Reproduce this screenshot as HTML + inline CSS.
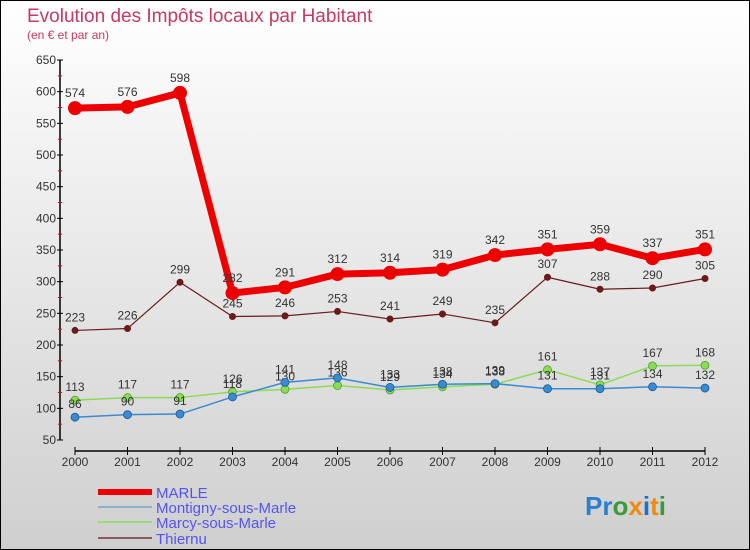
<!DOCTYPE html>
<html><head><meta charset="utf-8"><style>
body{margin:0;width:750px;height:550px;overflow:hidden}
svg{display:block;font-family:"Liberation Sans",sans-serif}
</style></head><body>
<svg id="c" width="750" height="550" viewBox="0 0 750 550">
<defs><linearGradient id="bg" x1="0" y1="0" x2="0" y2="1"><stop offset="0" stop-color="#ffffff"/><stop offset="1" stop-color="#cfcfcf"/></linearGradient></defs>
<rect x="0.5" y="0.5" width="749" height="549" fill="url(#bg)" stroke="#000"/>
<text x="27" y="22" font-size="19" fill="#c8385f">Evolution des Impôts locaux par Habitant</text>
<text x="27" y="39" font-size="12" fill="#c8385f">(en € et par an)</text>
<g id="axes"></g><g id="series"></g><g id="legend"></g>
<text x="585" y="515" font-size="26" font-weight="bold"><tspan fill="#2a7fd0">Pr</tspan><tspan fill="#3a9a3a">o</tspan><tspan fill="#f08a10">x</tspan><tspan fill="#1a6fd0">i</tspan><tspan fill="#f08a10">t</tspan><tspan fill="#3a9a3a">i</tspan></text>
</svg>
<script>
const years=[2000,2001,2002,2003,2004,2005,2006,2007,2008,2009,2010,2011,2012];
const yTicks=[50,100,150,200,250,300,350,400,450,500,550,600,650];
const marle=[574,576,598,282,291,312,314,319,342,351,359,337,351];
const montigny=[86,90,91,118,141,148,133,138,139,131,131,134,132];
const marcy=[113,117,117,126,130,136,129,134,138,161,137,167,168];
const thiernu=[223,226,299,245,246,253,241,249,235,307,288,290,305];
const NS="http://www.w3.org/2000/svg";
function X(i){return 75+i*52.5;}
function Y(v){return 440-(v-50)*380/600;}
function mk(tag,attrs,parent,txt){const e=document.createElementNS(NS,tag);for(const k in attrs)e.setAttribute(k,attrs[k]);if(txt!==undefined)e.textContent=txt;parent.appendChild(e);return e;}
const axes=document.getElementById('axes');
let e=mk('line',{x1:60,y1:Y(650),x2:60,y2:Y(50),stroke:'#000','stroke-width':1.5},axes);


yTicks.forEach(t=>{
  mk('line',{x1:57,y1:Y(t),x2:63,y2:Y(t),stroke:'#000'},axes);
  if(t<650)mk('line',{x1:58,y1:Y(t+25),x2:62,y2:Y(t+25),stroke:'#e00'},axes);
  const l=mk('text',{x:56,y:Y(t)+4,'font-size':12,fill:'#333','text-anchor':'end'},axes,t);
  
  
});
e=mk('line',{x1:X(0),y1:451,x2:X(12),y2:451,stroke:'#000','stroke-width':1.5},axes);


years.forEach((yr,i)=>{
  mk('line',{x1:X(i),y1:447,x2:X(i),y2:455,stroke:'#000'},axes);
  const l=mk('text',{x:X(i),y:466,'font-size':12,fill:'#333','text-anchor':'middle'},axes,yr);
  
  
});
const ser=document.getElementById('series');
const defs=[
 {name:'thiernu',data:thiernu,color:'#6a1a1a',w:1.2,r:3.5},
 {name:'marcy',data:marcy,color:'#88dd55',w:1.5,r:4},
 {name:'montigny',data:montigny,color:'#3a8ad0',w:1.5,r:4},
 {name:'marle',data:marle,color:'#ee0000',w:7,r:7}];
defs.forEach(s=>{
  const g=mk('g',{},ser);
  
  
  const p=mk('polyline',{points:s.data.map((v,i)=>X(i)+','+Y(v)).join(' '),fill:'none',stroke:s.color,'stroke-width':s.w,'stroke-linejoin':'round'},g);
  
  
  s.data.forEach((v,i)=>{
    const c=mk('circle',{cx:X(i),cy:Y(v),r:s.r,fill:s.color,stroke:s.name==='marcy'?'#5a9a30':(s.name==='montigny'?'#1a5a9a':'none'),'stroke-width':0.8},g);
    
    
    const t=mk('text',{x:X(i),y:Y(v)-(s.name==='marle'?11:9),'font-size':12,fill:'#333','text-anchor':'middle'},g,v);
    
    
  });
});
const leg=document.getElementById('legend');
[['MARLE','#ee0000',6,492],['Montigny-sous-Marle','#8ab0cc',2,507],['Marcy-sous-Marle','#99dd77',2,522],['Thiernu','#8a5a5a',2,538]].forEach(([n,c,w,y])=>{
  const g=mk('g',{},leg);
  
  
  mk('line',{x1:98,y1:y,x2:152,y2:y,stroke:c,'stroke-width':w},g);
  mk('text',{x:156,y:y+6,'font-size':15,fill:'#5555ee'},g,n);
});
</script>
</body></html>
